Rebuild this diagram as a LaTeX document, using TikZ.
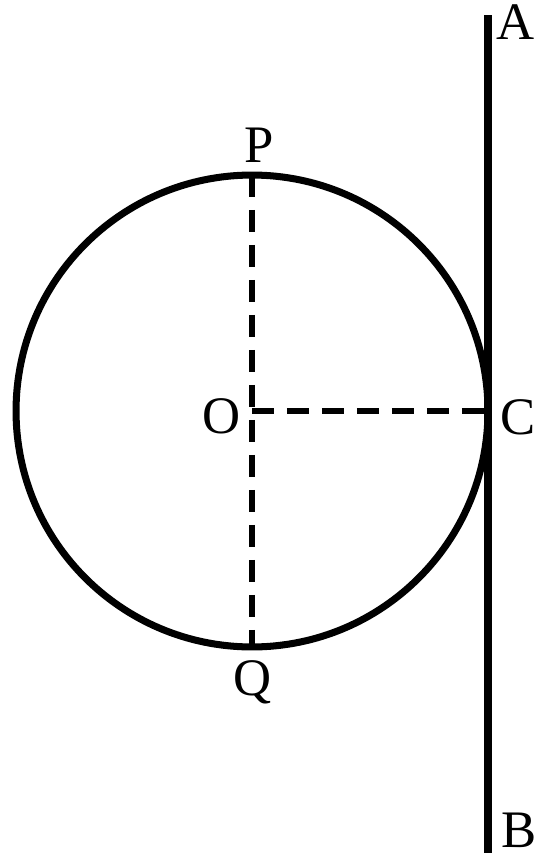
\documentclass[tikz,border=0pt]{standalone}
\usepackage{fontspec}
\setmainfont{Liberation Serif}
\usetikzlibrary{positioning}
\tikzset{
	rim/.style={line width=4pt},
	wall/.style={line width=4.6pt},
	guide/.style={line width=3.4pt, dash pattern=on 0.44cm off 0.26cm},
	ptlabel/.style={font=\fontsize{30}{36}\selectfont, inner sep=0pt, anchor=base},
}
\begin{document}
\begin{tikzpicture}[x=0.02cm, y=-0.02cm]
	\useasboundingbox (0,0) rectangle (537,862);
	% points
	\coordinate (O) at (252,411);
	\coordinate (P) at (252,175);
	\coordinate (Q) at (252,647);
	\coordinate (C) at (488,411);
	\coordinate (A) at (488,15);
	\coordinate (B) at (488,853);
	% circle and tangent
	\draw[rim] (O) circle[radius=4.72cm];
	\draw[wall] (A) -- (B);
	\draw[guide] (P) -- (Q);
	\draw[guide] (O) -- (C);
	% labels
	\node[ptlabel] (lA) at (516,39) {A};
	\node[ptlabel] (lB) at (519,847) {B};
	\node[ptlabel] (lC) at (518,434) {C};
	\node[ptlabel] (lO) at (222,433) {O};
	\node[ptlabel] (lP) at (259,162) {P};
	\node[ptlabel] (lQ) at (253,695) {Q};
\end{tikzpicture}
\end{document}
